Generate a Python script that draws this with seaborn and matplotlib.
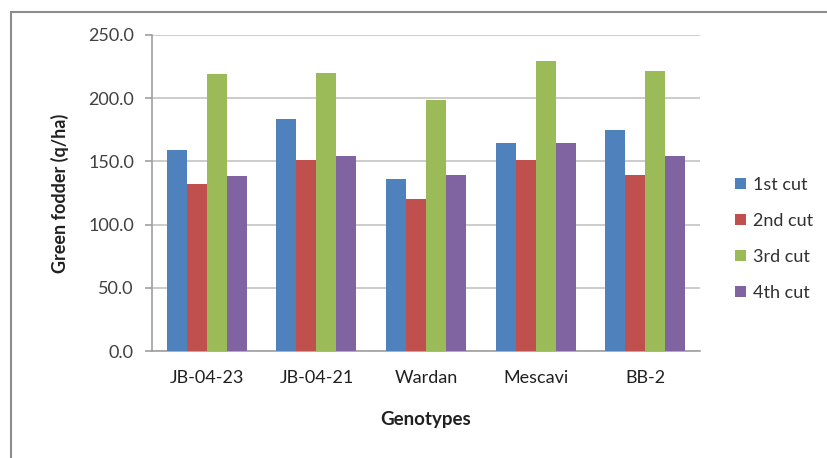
import numpy as np
import pandas as pd
import matplotlib
matplotlib.use('Agg')
import matplotlib.pyplot as plt
import seaborn as sns
from matplotlib.patches import Rectangle

# data
genotypes = ['JB-04-23', 'JB-04-21', 'Wardan', 'Mescavi', 'BB-2']
cut_1 = [158.7, 183.9, 136.1, 164.5, 174.5]
cut_2 = [131.8, 150.8, 120.5, 151.3, 139.5]
cut_3 = [219.0, 219.8, 198.7, 229.7, 221.8]
cut_4 = [138.1, 153.9, 139.5, 164.5, 153.9]
cut_names = ['1st cut', '2nd cut', '3rd cut', '4th cut']
colors = ['#4F81BD', '#C0504D', '#9BBB59', '#8064A2']

# long form for seaborn
rows = []
for name, vals in zip(cut_names, [cut_1, cut_2, cut_3, cut_4]):
    for g, v in zip(genotypes, vals):
        rows.append({'Genotype': g, 'Cut': name, 'Value': v})
df = pd.DataFrame(rows)

sns.set_style('white')
plt.rcParams['font.family'] = ['Lato', 'DejaVu Sans']

fig = plt.figure(figsize=(8.28, 4.58), dpi=100)
ax = fig.add_axes([152 / 828, 1 - 351 / 458, (700 - 152) / 828, (351 - 35) / 458])

sns.barplot(data=df, x='Genotype', y='Value', hue='Cut', order=genotypes,
            hue_order=cut_names, palette=colors, width=0.73, gap=0,
            saturation=1, errorbar=None, linewidth=0, ax=ax, zorder=3)

ax.set_ylim(0, 250)
ax.set_xlim(-0.5, 4.5)
ax.set_yticks(np.arange(0, 251, 50))
ax.set_yticklabels([f'{v:.1f}' for v in np.arange(0, 251, 50)])
ax.yaxis.grid(True, color='#c8c8c8', linewidth=1.3, zorder=0)
ax.set_axisbelow(True)

for s in ['top', 'right']:
    ax.spines[s].set_visible(False)
for s in ['left', 'bottom']:
    ax.spines[s].set_color('#a0a0a0')
    ax.spines[s].set_linewidth(1.2)

# x ticks sit between categories, like Excel
ax.set_xticks(np.arange(-0.5, 5, 1), minor=True)
ax.tick_params(axis='x', which='major', length=0, pad=14, labelsize=13,
               labelcolor='#202020')
ax.tick_params(axis='x', which='minor', length=5, color='#a0a0a0', width=1.2)
ax.tick_params(axis='y', length=5, color='#a0a0a0', width=1.2, pad=8,
               labelsize=13, labelcolor='#404040', left=True)

ax.set_xlabel('Genotypes', fontsize=13.5, fontweight='bold', labelpad=18,
              color='#202020')
ax.set_ylabel('Green fodder (q/ha)', fontsize=13, fontweight='bold',
              labelpad=14, color='#202020')

leg = ax.legend(loc='center left', bbox_to_anchor=(1.035, 0.355), frameon=False,
                fontsize=13, handlelength=0.6, handleheight=0.6,
                handletextpad=0.4, labelspacing=1.1)
for t in leg.get_texts():
    t.set_color('#303030')

# outer chart border (left and top edges visible)
fig.patches.append(Rectangle((11 / 828, -0.1), 1.2, 1 - 12 / 458 + 0.1,
                             transform=fig.transFigure, fill=False,
                             edgecolor='#8c8c8c', linewidth=1.5))

plt.savefig('out.png', dpi=100)
plt.close()
